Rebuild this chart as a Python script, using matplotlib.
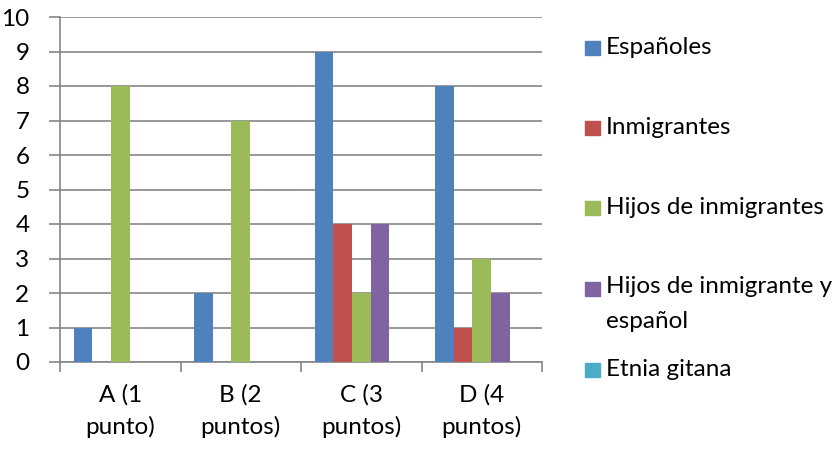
import matplotlib.pyplot as plt
import matplotlib.patches as mpatches
import numpy as np

categories = ["A (1\npunto)", "B (2\npuntos)", "C (3\npuntos)", "D (4\npuntos)"]
series_names = ["Españoles", "Inmigrantes", "Hijos de inmigrantes",
                "Hijos de inmigrante y\nespañol", "Etnia gitana"]
espanoles = [1, 2, 9, 8]
inmigrantes = [0, 0, 4, 1]
hijos_inmigrantes = [8, 7, 2, 3]
hijos_mixtos = [0, 0, 4, 2]
etnia_gitana = [0, 0, 0, 0]
series_values = [espanoles, inmigrantes, hijos_inmigrantes, hijos_mixtos, etnia_gitana]
colors = ["#4F81BD", "#C0504D", "#9BBB59", "#8064A2", "#4BACC6"]

plt.rcParams['font.family'] = ['Lato', 'DejaVu Sans']
FS = 17.5
W, H = 838, 449
fig = plt.figure(figsize=(W / 100, H / 100), dpi=100)
ax = fig.add_axes([60 / W, 1 - 362 / H, (542 - 60) / W, (362 - 17) / H])

grid_c = "#868686"
n = len(series_values)
bw = 1 / (n + 1.5)
x = np.arange(len(categories))
for i, (vals, c) in enumerate(zip(series_values, colors)):
    offs = -0.5 + 0.75 * bw + (i + 0.5) * bw
    ax.bar(x + offs, vals, width=bw, color=c, zorder=3)

ax.set_xlim(-0.5, len(categories) - 0.5)
ax.set_ylim(0, 10)
ax.set_yticks(range(0, 11))
ax.yaxis.grid(True, color=grid_c, linewidth=1.2, zorder=0)
ax.set_axisbelow(True)

ax.set_xticks(x)
ax.set_xticklabels(categories, fontsize=FS, linespacing=1.55)
ax.set_xticks(np.arange(-0.5, len(categories)), minor=True)
ax.tick_params(axis='x', which='major', length=0, pad=16)
ax.tick_params(axis='x', which='minor', length=7, width=1.2, color=grid_c, direction='out')
ax.tick_params(axis='y', length=8, width=1.2, color=grid_c, labelsize=FS, pad=14)

for s in ['top', 'right']:
    ax.spines[s].set_visible(False)
for s in ['left', 'bottom']:
    ax.spines[s].set_color(grid_c)
    ax.spines[s].set_linewidth(1.2)

# Legend drawn as coloured squares with labels
legend_y = [48, 128, 208, 289, 370]
for name, c, yc in zip(series_names, colors, legend_y):
    fig.patches.append(mpatches.Rectangle((585 / W, 1 - (yc + 7) / H), 15 / W, 14 / H,
                                          transform=fig.transFigure, color=c))
    if '\n' in name:
        fig.text(606 / W, 1 - (yc - 13) / H, name, fontsize=FS, va='top',
                 ha='left', linespacing=1.8)
    else:
        fig.text(606 / W, 1 - yc / H, name, fontsize=FS, va='center', ha='left')

fig.savefig("out.png", dpi=100)
